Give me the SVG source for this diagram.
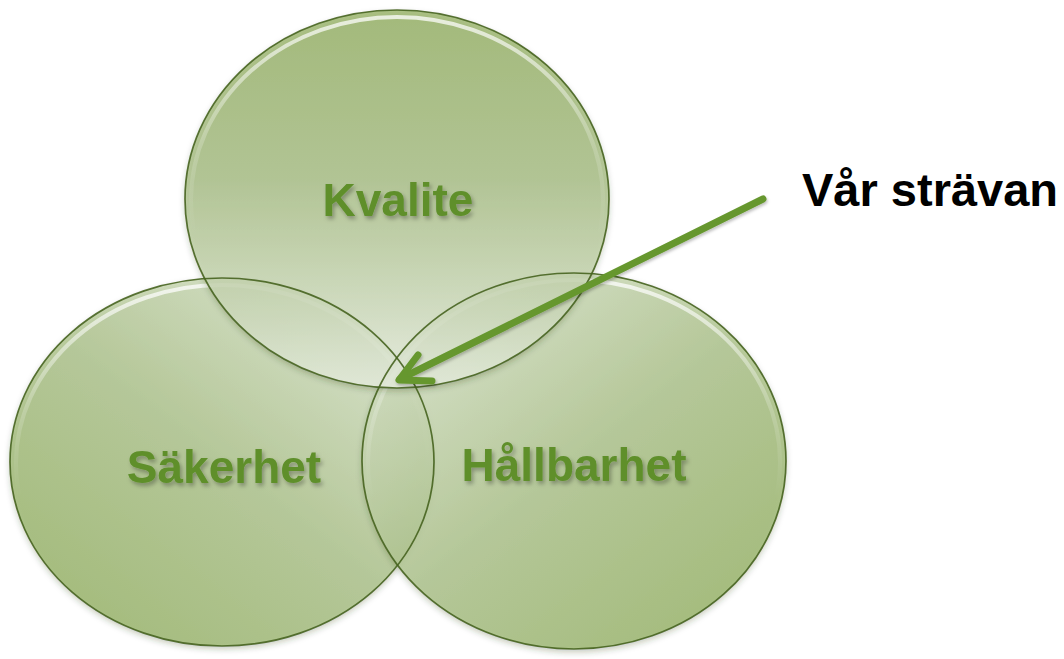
<svg xmlns="http://www.w3.org/2000/svg" width="1064" height="659" viewBox="0 0 1064 659">
  <defs>
    <!-- fills: darker green on the outside, pale toward the shared centre -->
    <linearGradient id="gTop" x1="0" y1="0" x2="0" y2="1">
      <stop offset="0" stop-color="#97b267"/>
      <stop offset="0.45" stop-color="#a9bf86"/>
      <stop offset="0.8" stop-color="#cfdcbd"/>
      <stop offset="1" stop-color="#e9f0e1"/>
    </linearGradient>
    <linearGradient id="gLeft" x1="0.15" y1="0.95" x2="0.9" y2="0.1">
      <stop offset="0" stop-color="#98b468"/>
      <stop offset="0.5" stop-color="#adc38b"/>
      <stop offset="1" stop-color="#d9e4cb"/>
    </linearGradient>
    <linearGradient id="gRight" x1="0.85" y1="0.95" x2="0.1" y2="0.1">
      <stop offset="0" stop-color="#98b468"/>
      <stop offset="0.5" stop-color="#adc38b"/>
      <stop offset="1" stop-color="#d9e4cb"/>
    </linearGradient>
    <linearGradient id="rim" x1="0" y1="0" x2="0" y2="1">
      <stop offset="0" stop-color="#ffffff" stop-opacity="0.75"/>
      <stop offset="0.35" stop-color="#ffffff" stop-opacity="0.2"/>
      <stop offset="0.6" stop-color="#ffffff" stop-opacity="0"/>
    </linearGradient>
    <filter id="labelShadow" x="-10%" y="-20%" width="130%" height="150%">
      <feDropShadow dx="2" dy="3" stdDeviation="2" flood-color="#000" flood-opacity="0.3"/>
    </filter>
    <filter id="discShadow" x="-5%" y="-5%" width="110%" height="115%">
      <feDropShadow dx="0" dy="3" stdDeviation="3" flood-color="#2e3d1a" flood-opacity="0.35"/>
    </filter>
    <filter id="lineShadow" x="-5%" y="-10%" width="110%" height="130%">
      <feDropShadow dx="1" dy="2" stdDeviation="1.5" flood-color="#000" flood-opacity="0.25"/>
    </filter>
  </defs>
  <style>
    .disc { stroke: none; fill-opacity: 0.8; }
    .edge { fill: none; stroke: #46631f; stroke-width: 1.7; stroke-opacity: 0.9; }
    .gloss { fill: none; stroke: url(#rim); stroke-width: 4; }
    .label { font-family: "Liberation Sans", Arial, sans-serif; font-weight: bold; font-size: 46px; fill: #5e8f2b; text-anchor: middle; }
    .note { font-family: "Liberation Sans", Arial, sans-serif; font-weight: bold; font-size: 47px; fill: #000000; }
    .arrow { stroke: #66972f; stroke-width: 7; stroke-linecap: round; stroke-linejoin: round; fill: none; }
  </style>

  <rect width="1064" height="659" fill="#ffffff"/>

  <g id="sakerhet">
    <ellipse class="disc" cx="222" cy="462" rx="212" ry="184" fill="url(#gLeft)" filter="url(#discShadow)"/>
    <ellipse class="gloss" cx="222" cy="463" rx="206" ry="178"/>
  </g>

  <g id="hallbarhet">
    <ellipse class="disc" cx="574" cy="461" rx="212" ry="188" fill="url(#gRight)" filter="url(#discShadow)"/>
    <ellipse class="gloss" cx="574" cy="462" rx="206" ry="182"/>
  </g>

  <g id="kvalite">
    <ellipse class="disc" cx="397" cy="199" rx="212" ry="189" fill="url(#gTop)" filter="url(#discShadow)"/>
    <ellipse class="gloss" cx="397" cy="200" rx="206" ry="183"/>
  </g>

  <!-- outlines drawn last so every edge shows through the overlaps -->
  <g id="outlines">
    <ellipse class="edge" cx="222" cy="462" rx="212" ry="184"/>
    <ellipse class="edge" cx="574" cy="461" rx="212" ry="188"/>
    <ellipse class="edge" cx="397" cy="199" rx="212" ry="189"/>
  </g>

  <g id="labels">
    <text class="label" x="398" y="216" filter="url(#labelShadow)">Kvalite</text>
    <text class="label" x="224" y="483" filter="url(#labelShadow)">Säkerhet</text>
    <text class="label" x="574" y="481" filter="url(#labelShadow)">Hållbarhet</text>
  </g>

  <g id="var-stravan">
    <text class="note" x="802" y="206">Vår strävan</text>
  </g>

  <g id="connectors" filter="url(#lineShadow)">
    <line class="arrow" x1="763" y1="199" x2="400" y2="379"/>
    <polyline class="arrow" points="418,355 399,380 432,381"/>
  </g>
</svg>
